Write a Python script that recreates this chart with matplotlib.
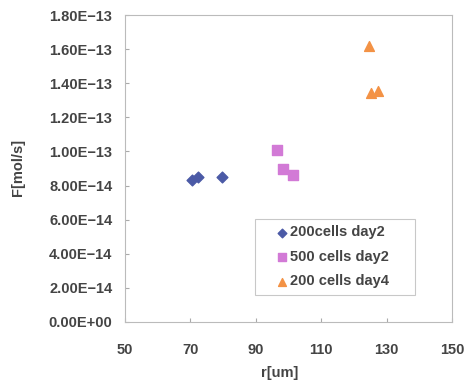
import matplotlib
matplotlib.use('Agg')
from matplotlib import pyplot as plt
from matplotlib.ticker import FuncFormatter

plt.rcParams.update({'font.size': 10, 'font.family': 'Liberation Sans', 'font.weight': 'bold',
                     'axes.labelweight': 'bold'})

# data
r_200_d2 = [70.4, 72.4, 79.6]
F_200_d2 = [8.35e-14, 8.52e-14, 8.52e-14]

r_500_d2 = [96.6, 98.2, 101.5]
F_500_d2 = [1.008e-13, 8.97e-14, 8.62e-14]

r_200_d4 = [124.6, 125.2, 127.5]
F_200_d4 = [1.618e-13, 1.341e-13, 1.356e-13]

labels = ['200cells day2', '500 cells day2', '200 cells day4']

txt = '#444444'

fig = plt.figure(figsize=(4.66, 3.87), dpi=100)
ax = fig.add_axes([0.268, 0.168, 0.702, 0.793])

ax.scatter(r_200_d2, F_200_d2, marker='D', s=30, color='#4b5aa6', label=labels[0], zorder=3)
ax.scatter(r_500_d2, F_500_d2, marker='s', s=45, color='#d27ad6', label=labels[1], zorder=3)
ax.scatter(r_200_d4, F_200_d4, marker='^', s=50, color='#f39245', label=labels[2], zorder=3)

ax.set_xlim(50, 150)
ax.set_ylim(0, 1.8e-13)
ax.set_xticks([50, 70, 90, 110, 130, 150])
ax.set_yticks([i * 2e-14 for i in range(10)])
ax.yaxis.set_major_formatter(FuncFormatter(lambda v, p: ('%.2E' % v).replace('-', '\u2212')))

ax.tick_params(direction='in', length=3, color='#aaaaaa', labelcolor=txt, labelsize=10.5, pad=9)
ax.tick_params(axis='x', pad=15)
for s in ax.spines.values():
    s.set_color('#bbbbbb')
    s.set_linewidth(0.8)

ax.set_xlabel('r[um]', color=txt, fontsize=10.5)
ax.set_ylabel('F[mol/s]', color=txt, fontsize=10.5)
ax.xaxis.set_label_coords(0.474, -0.145)
ax.yaxis.set_label_coords(-0.305, 0.505)

leg = ax.legend(loc='lower left', bbox_to_anchor=(0.398, 0.088, 0.489, 0.244), mode='expand',
                borderaxespad=0, fancybox=False, edgecolor='#bbbbbb', handletextpad=-0.85,
                handlelength=2.8, markerscale=0.8, borderpad=0.45, labelspacing=0.72,
                prop={'weight': 'bold', 'size': 10.5})
leg.get_frame().set_linewidth(0.8)
for t in leg.get_texts():
    t.set_color(txt)

fig.savefig('out.png', dpi=100)
